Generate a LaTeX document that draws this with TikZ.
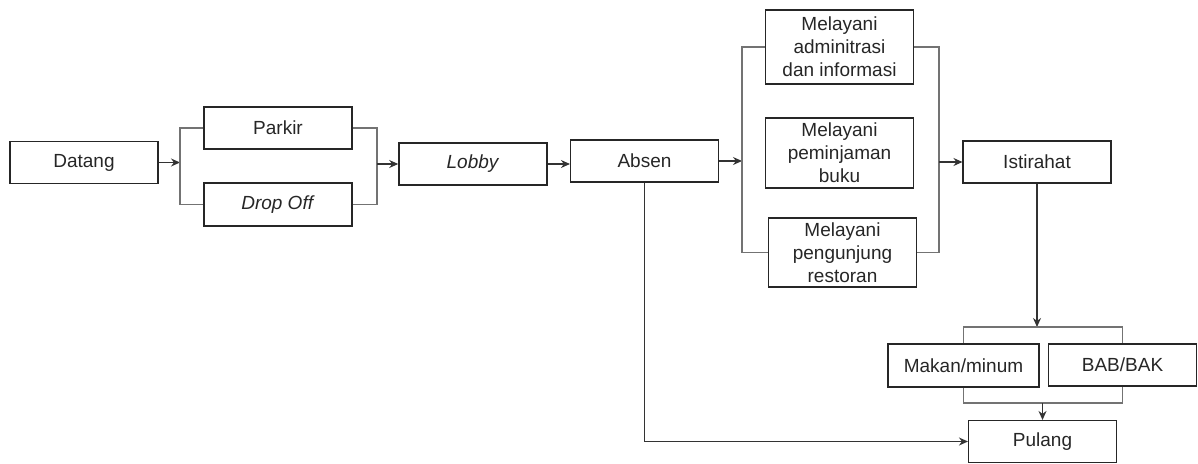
\documentclass[tikz,border=0pt]{standalone}
\usepackage{fontspec}
\setmainfont{Liberation Sans}
\usetikzlibrary{arrows.meta, positioning}

\begin{document}
\begin{tikzpicture}[x=1pt, y=-1pt, >={Stealth[length=9pt,width=8pt]},
    box/.style={draw=black!85, line width=1.6pt, minimum width=148pt, minimum height=42pt, inner sep=0pt, align=center, text=black!85, font=\fontsize{19}{23}\selectfont},
    thinbox/.style={box, line width=1.1pt},
    link/.style={draw=black!80, line width=1.2pt},
    bracket/.style={draw=black!55, line width=1.1pt}]
    \useasboundingbox (0,0) rectangle (1198,463);

    \node[box] (datang) at (84,162.5) {Datang};
    \node[box] (parkir) at (278,128) {Parkir};
    \node[box, minimum height=43pt] (dropoff) at (278,204.5) {\textit{Drop Off}};
    \node[box] (lobby) at (473,164) {\textit{Lobby}};
    \node[thinbox] (absen) at (644.5,161) {Absen};

    \node[box, minimum height=74pt] (admin) at (839.5,47) {Melayani\\ adminitrasi\\ dan informasi};
    \node[box, minimum height=70pt] (pinjam) at (839.5,153) {Melayani\\ peminjaman\\ buku};
    \node[thinbox, minimum height=69pt] (resto) at (842.5,252.5) {Melayani\\ pengunjung\\ restoran};
    \node[thinbox] (istirahat) at (1037,162) {Istirahat};

    \node[box, minimum width=151pt, minimum height=43pt] (makan) at (963.5,365.5) {Makan/minum};
    \node[thinbox] (bab) at (1122.5,365) {BAB/BAK};
    \node[thinbox] (pulang) at (1042.5,441.5) {Pulang};

    \coordinate (split1) at (180,162.5);
    \coordinate (join1) at (377,164);
    \coordinate (split2) at (742,161);
    \coordinate (join2) at (939,162);
    \coordinate (split3) at (istirahat.south |- 0,327);
    \coordinate (join3) at (pulang.north |- 0,403);

    \draw[->, link] (datang.east) -- (split1);
    \draw[bracket] (parkir.west) -| (split1) |- (dropoff.west);
    \draw[bracket] (parkir.east) -| (join1) |- (dropoff.east);
    \draw[->, link] (join1) -- (lobby.west);
    \draw[->, link] (lobby.east) -- (absen.west |- lobby.east);
    \draw[->, link] (absen.east) -- (split2);
    \draw[bracket] (admin.west) -| (split2) |- (resto.west);
    \draw[bracket] (admin.east) -| (join2) |- (resto.east);
    \draw[->, link] (join2) -- (istirahat.west);
    \draw[->, link] (istirahat.south) -- (split3);
    \draw[bracket] (makan.north) |- (split3) -| (bab.north);
    \draw[bracket] (makan.south) |- (join3) -| (bab.south);
    \draw[->, link] (join3) -- (pulang.north);
    \draw[->, link] (absen.south) |- (pulang.west);
\end{tikzpicture}
\end{document}
